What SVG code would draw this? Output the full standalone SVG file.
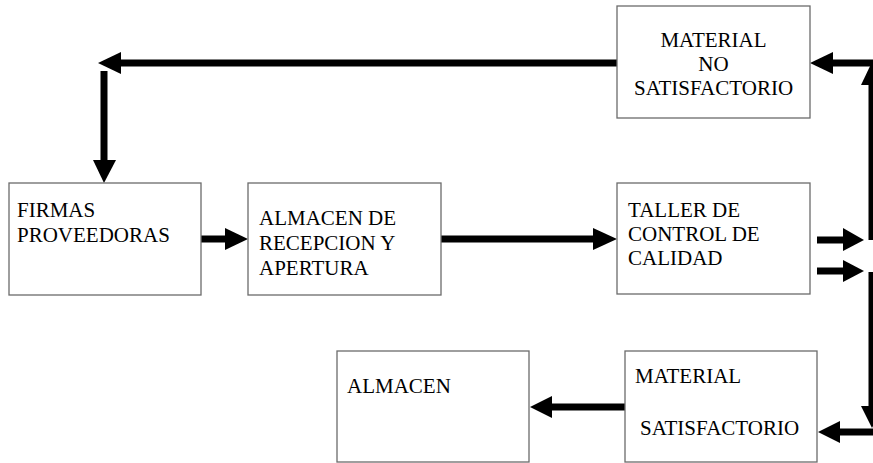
<svg xmlns="http://www.w3.org/2000/svg" width="873" height="463" viewBox="0 0 873 463">
<rect width="873" height="463" fill="#fff"/>
<g id="connectors" fill="#000">
<g stroke="#000" stroke-width="7" fill="none">
<line x1="873" y1="63" x2="830" y2="63"/>
<line x1="872" y1="240" x2="872" y2="80"/>
<line x1="617" y1="63" x2="118" y2="63"/>
<line x1="104" y1="71" x2="104" y2="163"/>
<line x1="201" y1="239" x2="228" y2="239"/>
<line x1="441" y1="239" x2="596" y2="239"/>
<line x1="817" y1="240" x2="846" y2="240"/>
<line x1="817" y1="271" x2="846" y2="271"/>
<line x1="872" y1="272" x2="872" y2="412"/>
<line x1="873" y1="432" x2="836" y2="432"/>
<line x1="625" y1="407" x2="548" y2="407"/>
</g>
<polygon points="810,63 833,52 833,74"/>
<polygon points="872,62 861,85 883,85"/>
<polygon points="98,63 121,52 121,74"/>
<polygon points="104,183 93,160 116,160"/>
<polygon points="248,239 225,228 225,250"/>
<polygon points="617,239 593,228 593,250"/>
<polygon points="864,240 843,228 843,251"/>
<polygon points="864,271 843,260 843,282"/>
<polygon points="872,428 861,406 883,406"/>
<polygon points="818,432 840,421 840,443"/>
<polygon points="530,407 552,396 552,418"/>
</g>
<g id="material-no-satisfactorio">
<rect x="617" y="6" width="193" height="112" fill="#fff" stroke="#6b6b6b" stroke-width="1.3"/>
<text x="713.5" y="47" text-anchor="middle" font-family="Liberation Serif, serif" font-size="21">MATERIAL</text>
<text x="713.5" y="71" text-anchor="middle" font-family="Liberation Serif, serif" font-size="21">NO</text>
<text x="713.5" y="95" text-anchor="middle" font-family="Liberation Serif, serif" font-size="21">SATISFACTORIO</text>
</g>
<g id="firmas-proveedoras">
<rect x="9" y="183" width="192" height="112" fill="#fff" stroke="#6b6b6b" stroke-width="1.3"/>
<text x="17" y="217" font-family="Liberation Serif, serif" font-size="21">FIRMAS</text>
<text x="17" y="242" font-family="Liberation Serif, serif" font-size="21">PROVEEDORAS</text>
</g>
<g id="almacen-recepcion">
<rect x="248" y="183" width="193" height="112" fill="#fff" stroke="#6b6b6b" stroke-width="1.3"/>
<text x="259" y="225" font-family="Liberation Serif, serif" font-size="21">ALMACEN DE</text>
<text x="259" y="250" font-family="Liberation Serif, serif" font-size="21">RECEPCION Y</text>
<text x="259" y="275" font-family="Liberation Serif, serif" font-size="21">APERTURA</text>
</g>
<g id="taller-control-calidad">
<rect x="617" y="183" width="193" height="111" fill="#fff" stroke="#6b6b6b" stroke-width="1.3"/>
<text x="628" y="217" font-family="Liberation Serif, serif" font-size="21">TALLER DE</text>
<text x="628" y="241" font-family="Liberation Serif, serif" font-size="21">CONTROL DE</text>
<text x="628" y="265" font-family="Liberation Serif, serif" font-size="21">CALIDAD</text>
</g>
<g id="material-satisfactorio">
<rect x="625" y="351" width="192" height="111" fill="#fff" stroke="#6b6b6b" stroke-width="1.3"/>
<text x="635" y="383" font-family="Liberation Serif, serif" font-size="21">MATERIAL</text>
<text x="640" y="435" font-family="Liberation Serif, serif" font-size="21">SATISFACTORIO</text>
</g>
<g id="almacen">
<rect x="337" y="351" width="192" height="111" fill="#fff" stroke="#6b6b6b" stroke-width="1.3"/>
<text x="347" y="393" font-family="Liberation Serif, serif" font-size="21">ALMACEN</text>
</g>
</svg>
